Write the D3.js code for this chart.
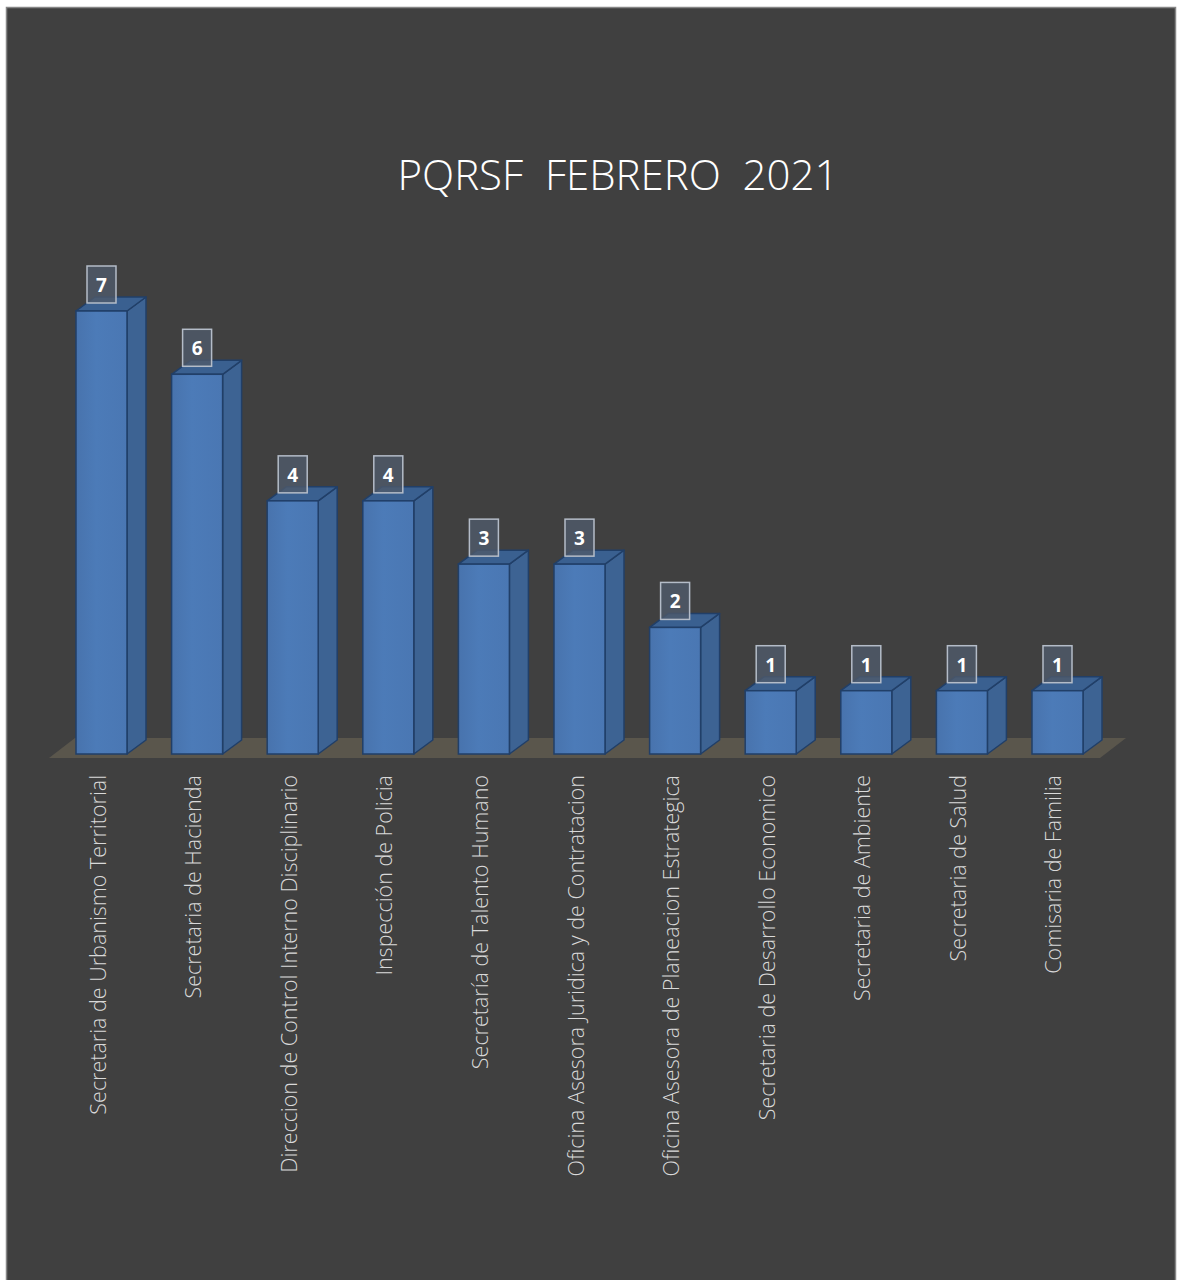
<!DOCTYPE html>
<html>
<head>
<meta charset="utf-8">
<script src="https://cdn.jsdelivr.net/npm/d3@7"></script>
<style>
  html, body { margin: 0; padding: 0; background: #ffffff; }
  svg { display: block; }
</style>
</head>
<body>
<script>
const categories = [
  "Secretaria de Urbanismo Territorial",
  "Secretaria de Hacienda",
  "Direccion de Control Interno Disciplinario",
  "Inspección de Policia",
  "Secretaría de Talento Humano",
  "Oficina Asesora Juridica y de Contratacion",
  "Oficina Asesora de Planeacion Estrategica",
  "Secretaria de Desarrollo Economico",
  "Secretaria de Ambiente",
  "Secretaria de Salud",
  "Comisaria de Familia"
];
const values = [7, 6, 4, 4, 3, 3, 2, 1, 1, 1, 1];
const title = "PQRSF  FEBRERO  2021";

const W = 1177, H = 1280;
const svg = d3.select("body").append("svg").attr("width", W).attr("height", H);

svg.append("rect").attr("x", 0).attr("y", 0).attr("width", W).attr("height", H).attr("fill", "#ffffff");
svg.append("rect").attr("x", 6.5).attr("y", 7.5).attr("width", 1169).attr("height", 1290)
  .attr("fill", "#404040").attr("stroke", "#868686").attr("stroke-width", 1.5);

const x = d3.scaleBand().domain(categories).range([76, 1083]).paddingInner(0.4665).paddingOuter(0);
const y = d3.scaleLinear().domain([0, 7]).range([754, 311]);

const dx = 19, dy = -14;

// floor
const fx0 = x.range()[0] - 27, fx1 = x.range()[1] + 17, fy = y(0) + 4;
svg.append("polygon")
  .attr("points", [[fx0, fy], [fx1, fy], [fx1 + 26, fy - 20], [fx0 + 26, fy - 20]].map(p => p.join(",")).join(" "))
  .attr("fill", "#5a564c");

// title
svg.append("text").attr("x", 618).attr("y", 190).attr("text-anchor", "middle")
  .attr("font-family", "'Open Sans', sans-serif").attr("font-weight", 300).attr("font-size", 42).attr("fill", "#ffffff")
  .attr("xml:space", "preserve").style("white-space", "pre")
  .text(title);

const defs = svg.append("defs");
const grad = defs.append("linearGradient").attr("id", "front").attr("x1", 0).attr("x2", 1).attr("y1", 0).attr("y2", 0);
grad.append("stop").attr("offset", "0%").attr("stop-color", "#4873ad");
grad.append("stop").attr("offset", "40%").attr("stop-color", "#4c7bb8");
grad.append("stop").attr("offset", "100%").attr("stop-color", "#4a77b3");

const bars = svg.selectAll("g.bar").data(categories.map((c, i) => ({ c, v: values[i] }))).join("g").attr("class", "bar");

bars.each(function (d) {
  const g = d3.select(this);
  const x0 = x(d.c), x1 = x0 + x.bandwidth(), yt = y(d.v), yb = y(0);
  // right side
  g.append("polygon")
    .attr("points", [[x1, yt], [x1 + dx, yt + dy], [x1 + dx, yb + dy], [x1, yb]].map(p => p.join(",")).join(" "))
    .attr("fill", "#3d6393").attr("stroke", "#213f68").attr("stroke-width", 1.5).attr("stroke-linejoin", "round");
  // top
  g.append("polygon")
    .attr("points", [[x0, yt], [x1, yt], [x1 + dx, yt + dy], [x0 + dx, yt + dy]].map(p => p.join(",")).join(" "))
    .attr("fill", "#3a6090").attr("stroke", "#213f68").attr("stroke-width", 1.5).attr("stroke-linejoin", "round");
  // front
  g.append("rect").attr("x", x0).attr("y", yt).attr("width", x1 - x0).attr("height", yb - yt)
    .attr("fill", "url(#front)").attr("stroke", "#213f68").attr("stroke-width", 1.5);
  // label box
  const cx = x0 + x.bandwidth() / 2;
  g.append("rect").attr("x", cx - 14.5).attr("y", yt - 45).attr("width", 29).attr("height", 37)
    .attr("fill", "#4f5a6a").attr("fill-opacity", 0.8).attr("stroke", "#b4bcc8").attr("stroke-width", 1.5);
  g.append("text").attr("x", cx).attr("y", yt - 19).attr("text-anchor", "middle")
    .attr("font-family", "'Open Sans', sans-serif").attr("font-weight", 700).attr("font-size", 19)
    .attr("fill", "#ffffff").text(d.v);
  // category label
  g.append("text")
    .attr("transform", `translate(${cx + 4},775) rotate(-90)`)
    .attr("text-anchor", "end")
    .attr("font-family", "'Open Sans', sans-serif").attr("font-weight", 300).attr("font-size", 21.5)
    .attr("fill", "#d9d9d9").text(d.c);
});
</script>
</body>
</html>
